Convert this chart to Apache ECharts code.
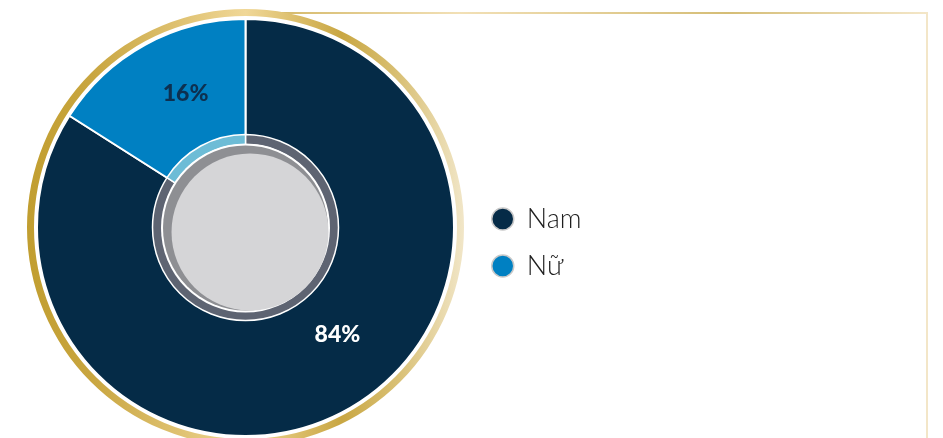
<!DOCTYPE html>
<html>
<head>
<meta charset="utf-8">
<script src="https://cdn.jsdelivr.net/npm/echarts@6/dist/echarts.min.js"></script>
<style>
html,body{margin:0;padding:0;background:#fff;}
#c{width:943px;height:438px;}
</style>
</head>
<body>
<div id="c"></div>
<script>
// ---- data ----
var categories = ['Nam', 'Nữ'];
var shares = [84, 16];
var labelTexts = ['84%', '16%'];

// ---- styles (kept apart from data) ----
var sliceColors = ['#052b47', '#0080c2'];
var ringColors = ['#5e6472', '#6dbcd6'];
var labelColors = ['#ffffff', '#0d3050'];
var labelOffsets = [[20, -24], [12, -3]];

var CX = 245.5, CY = 227.5;

var pieData = categories.map(function (n, i) {
  return {
    name: n,
    value: shares[i],
    itemStyle: { color: sliceColors[i] },
    label: { color: labelColors[i], offset: labelOffsets[i], formatter: labelTexts[i] }
  };
});
var ringData = categories.map(function (n, i) {
  return { name: n, value: shares[i], itemStyle: { color: ringColors[i] } };
});

var chart = echarts.init(document.getElementById('c'), null, { renderer: 'canvas' });
chart.setOption({
  animation: false,
  backgroundColor: '#ffffff',
  legend: {
    data: categories,
    orient: 'vertical',
    left: 486,
    top: 199,
    itemWidth: 22,
    itemHeight: 22,
    itemGap: 17,
    icon: 'circle',
    itemStyle: { borderColor: '#c9c9c9', borderWidth: 1.5 },
    textStyle: {
      fontFamily: 'Lato',
      fontWeight: 300,
      fontSize: 27,
      lineHeight: 30,
      color: '#1e1e1e',
      padding: [0, 0, 0, 8]
    },
    selectedMode: false
  },
  graphic: [
    // frame lines
    {
      type: 'line', z: 0,
      shape: { x1: 260, y1: 13, x2: 927, y2: 13 },
      style: {
        lineWidth: 2,
        stroke: new echarts.graphic.LinearGradient(0, 0, 1, 0, [
          { offset: 0, color: '#d2b561' },
          { offset: 0.3, color: '#f2e0b6' },
          { offset: 0.7, color: '#d5bd76' },
          { offset: 1, color: '#f4e7c9' }
        ])
      }
    },
    {
      type: 'line', z: 0,
      shape: { x1: 927, y1: 12, x2: 927, y2: 438 },
      style: { lineWidth: 2, stroke: '#f3e6c8' }
    },
    // gold ring
    {
      type: 'ring', z: 1,
      shape: { cx: CX, cy: CY, r: 218.5, r0: 211.5 },
      style: {
        fill: new echarts.graphic.LinearGradient(0, 0, 1, 0, [
          { offset: 0, color: '#c19e30' },
          { offset: 0.15, color: '#c9a640' },
          { offset: 0.5, color: '#f0d797' },
          { offset: 0.72, color: '#c9a743' },
          { offset: 0.85, color: '#d9c075' },
          { offset: 1, color: '#f1e6c8' }
        ])
      }
    },
    // inner disc
    {
      type: 'circle', z: 100,
      shape: { cx: CX, cy: CY + 0.5, r: 84.5 },
      style: { fill: '#ffffff' }
    },
    {
      type: 'circle', z: 101,
      shape: { cx: CX, cy: CY + 0.5, r: 82.5 },
      style: { fill: '#8e8f93' }
    },
    {
      type: 'circle', z: 102,
      shape: { cx: CX + 4.5, cy: CY + 4.5, r: 78.5 },
      style: { fill: '#d5d5d7' }
    }
  ],
  series: [
    {
      type: 'pie',
      z: 2,
      center: [CX, CY],
      radius: [84, 208.5],
      startAngle: 90,
      clockwise: true,
      silent: true,
      itemStyle: { borderColor: '#ffffff', borderWidth: 2 },
      label: {
        show: true,
        position: 'inside',
        fontFamily: 'Lato',
        fontWeight: 900,
        fontSize: 23
      },
      labelLine: { show: false },
      data: pieData
    },
    {
      type: 'pie',
      z: 3,
      center: [CX, CY],
      radius: [83, 93],
      startAngle: 90,
      clockwise: true,
      silent: true,
      itemStyle: { borderColor: '#ffffff', borderWidth: 1.5 },
      label: { show: false },
      labelLine: { show: false },
      data: ringData
    }
  ]
});
</script>
</body>
</html>
